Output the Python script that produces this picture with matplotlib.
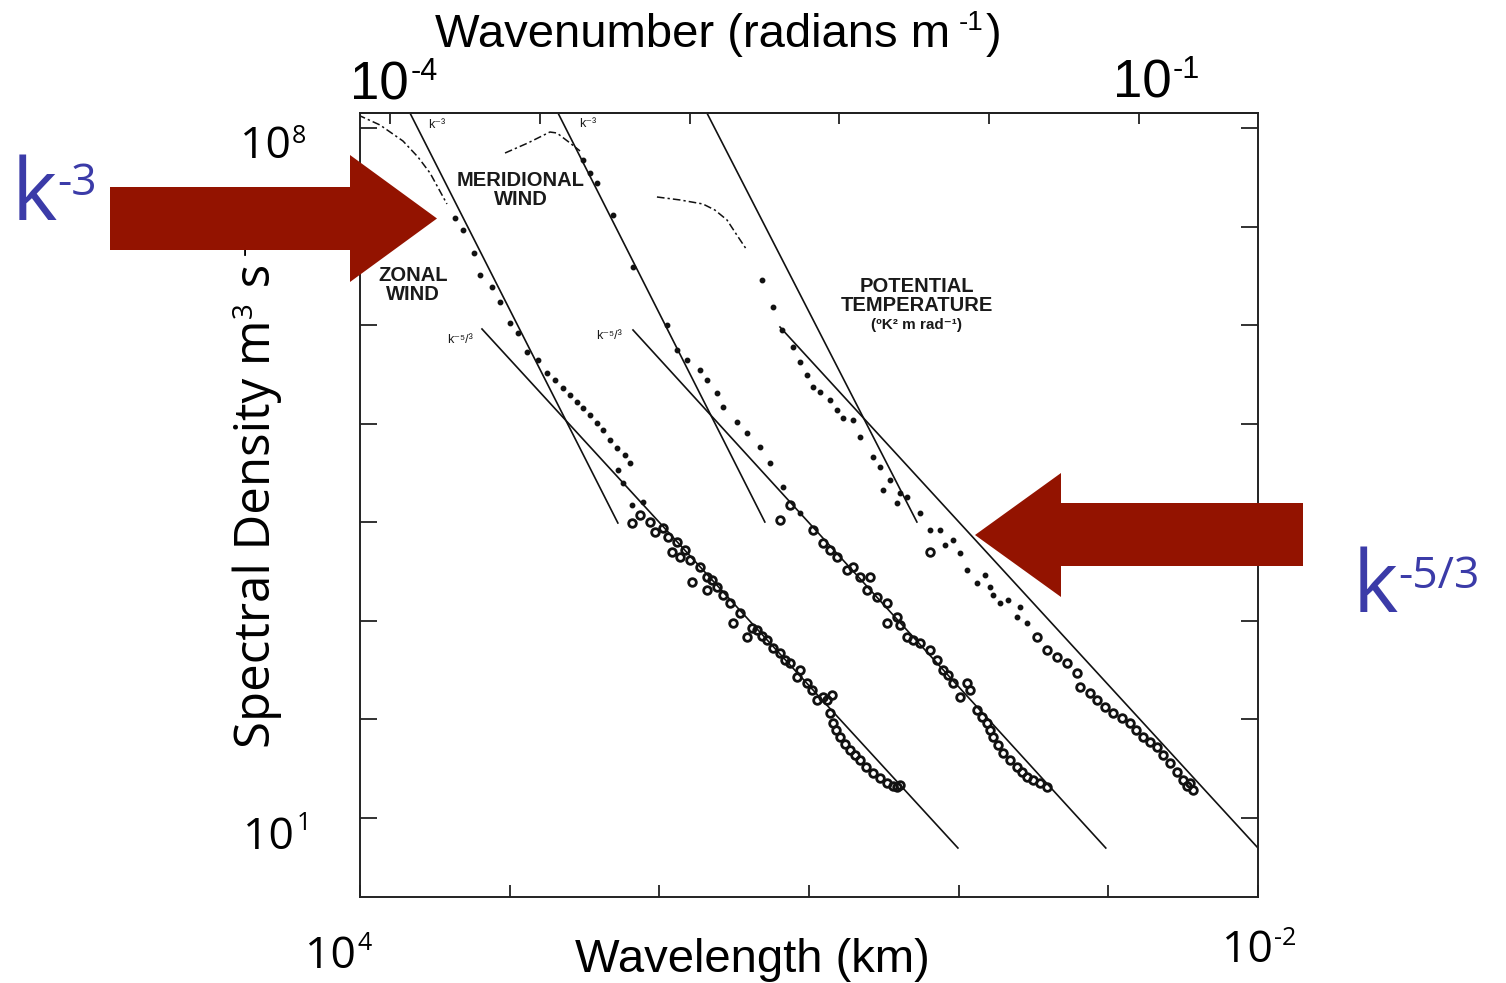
import numpy as np
import matplotlib
matplotlib.use('Agg')
import matplotlib.pyplot as plt
from matplotlib.patches import Polygon
from matplotlib.ticker import NullLocator

W, H = 1506, 983

# ---------------- data: log10 wavelength (km), log10 spectral density ----------------
zonal_dd_lx = [4.013, 3.866, 3.713, 3.613, 3.532, 3.419]
zonal_dd_ly = [8.132, 8.030, 7.868, 7.706, 7.543, 7.229]
zonal_dot_lx = [3.366, 3.312, 3.238, 3.198, 3.118, 3.065, 2.998, 2.945, 2.884, 2.811, 2.751,
                2.697, 2.644, 2.597, 2.550, 2.510, 2.464, 2.417, 2.377, 2.330, 2.283, 2.230,
                2.196, 2.277, 2.243, 2.110, 2.183]
zonal_dot_ly = [7.087, 6.965, 6.732, 6.509, 6.387, 6.235, 6.022, 5.920, 5.727, 5.646, 5.514,
                5.443, 5.362, 5.291, 5.220, 5.159, 5.088, 5.007, 4.936, 4.835, 4.754, 4.683,
                4.601, 4.530, 4.398, 4.206, 4.175]
zonal_circ_lx = [2.183, 2.130, 2.063, 2.029, 1.976, 1.943, 1.882, 1.916, 1.862, 1.829, 1.796,
                 1.729, 1.782, 1.682, 1.649, 1.615, 1.682, 1.575, 1.528, 1.462, 1.508, 1.415,
                 1.381, 1.348, 1.315, 1.281, 1.241, 1.194, 1.161, 1.128, 1.081, 1.061, 1.014,
                 0.981, 0.947, 0.907, 0.880, 0.847, 0.860, 0.840, 0.820, 0.794, 0.760, 0.727,
                 0.693, 0.660, 0.620, 0.573, 0.527, 0.480, 0.440, 0.413, 0.393]
zonal_circ_ly = [3.993, 4.074, 4.003, 3.901, 3.942, 3.851, 3.800, 3.698, 3.648, 3.719, 3.617,
                 3.546, 3.394, 3.445, 3.414, 3.343, 3.313, 3.262, 3.181, 3.080, 2.978, 2.836,
                 2.928, 2.907, 2.846, 2.806, 2.725, 2.674, 2.603, 2.572, 2.430, 2.501, 2.369,
                 2.298, 2.197, 2.227, 2.197, 2.247, 2.065, 1.964, 1.893, 1.822, 1.751, 1.690,
                 1.639, 1.588, 1.517, 1.456, 1.406, 1.355, 1.325, 1.315, 1.335]

merid_dd_lx = [3.031, 2.878, 2.731, 2.684, 2.597, 2.530]
merid_dd_ly = [7.746, 7.848, 7.959, 7.949, 7.848, 7.767]
merid_dot_lx = [2.510, 2.464, 2.417, 2.310, 2.176, 1.949, 1.882, 1.816, 1.729, 1.682, 1.615,
                1.575, 1.482, 1.415, 1.328, 1.261, 1.174, 1.061]
merid_dot_ly = [7.675, 7.543, 7.442, 7.117, 6.590, 6.001, 5.748, 5.646, 5.545, 5.443, 5.312,
                5.170, 5.017, 4.906, 4.764, 4.601, 4.358, 4.094]
merid_circ_lx = [1.194, 1.128, 0.974, 0.907, 0.860, 0.814, 0.747, 0.707, 0.660, 0.593, 0.613,
                 0.546, 0.480, 0.480, 0.413, 0.393, 0.346, 0.306, 0.259, 0.192, 0.146, 0.106,
                 0.072, 0.039, -0.055, -0.075, -0.008, -0.122, -0.155, -0.188, -0.208, -0.228,
                 -0.262, -0.295, -0.342, -0.389, -0.422, -0.456, -0.496, -0.542, -0.589]
merid_circ_ly = [4.023, 4.175, 3.922, 3.790, 3.719, 3.648, 3.516, 3.546, 3.445, 3.445, 3.313,
                 3.242, 3.181, 2.978, 3.039, 2.958, 2.836, 2.806, 2.775, 2.704, 2.603, 2.501,
                 2.451, 2.369, 2.369, 2.298, 2.227, 2.096, 2.025, 1.964, 1.893, 1.822,
                 1.741, 1.659, 1.588, 1.517, 1.467, 1.416, 1.386, 1.355, 1.315]

pt_dd_lx = [2.016, 1.862, 1.709, 1.629, 1.548, 1.482, 1.415]
pt_dd_ly = [7.300, 7.270, 7.229, 7.168, 7.067, 6.914, 6.762]
pt_dot_lx = [1.315, 1.241, 1.181, 1.108, 1.061, 1.014, 0.974, 0.927, 0.860, 0.814, 0.774,
             0.707, 0.660, 0.573, 0.526, 0.460, 0.506, 0.393, 0.413, 0.346, 0.259, 0.192,
             0.126, 0.092, 0.039, -0.008, -0.055, -0.122, -0.175, -0.208, -0.228, -0.275,
             -0.329, -0.389, -0.409, -0.456]
pt_dot_ly = [6.458, 6.184, 5.951, 5.778, 5.626, 5.494, 5.372, 5.322, 5.241, 5.139, 5.058,
             5.038, 4.865, 4.662, 4.561, 4.429, 4.327, 4.297, 4.196, 4.256, 4.094, 3.922,
             3.922, 3.770, 3.820, 3.688, 3.516, 3.384, 3.465, 3.343, 3.262, 3.181,
             3.212, 3.039, 3.141, 2.978]
pt_circ_lx = [0.192, -0.522, -0.589, -0.656, -0.723, -0.790, -0.810, -0.876, -0.923, -0.977,
              -1.030, -1.090, -1.144, -1.184, -1.230, -1.277, -1.324, -1.364, -1.411, -1.458,
              -1.498, -1.524, -1.544, -1.564]
pt_circ_ly = [3.698, 2.836, 2.704, 2.633, 2.572, 2.471, 2.329, 2.268, 2.197, 2.126,
              2.065, 2.015, 1.964, 1.893, 1.822, 1.771, 1.720, 1.639, 1.558, 1.467,
              1.386, 1.325, 1.355, 1.284]

# reference power-law lines (endpoints, log10)
zonal_k3_lx, zonal_k3_ly = [3.666, 2.277], [8.152, 3.993]
zonal_k53_lx, zonal_k53_ly = [3.185, 0.005], [5.961, 0.696]
merid_k3_lx, merid_k3_ly = [2.677, 1.295], [8.152, 4.003]
merid_k53_lx, merid_k53_ly = [2.176, -0.983], [5.951, 0.696]
pt_k3_lx, pt_k3_ly = [1.682, 0.279], [8.152, 4.003]
pt_k53_lx, pt_k53_ly = [1.194, -2.0], [5.981, 0.696]

x_tick_exp = [4, 3, 2, 1, 0, -1, -2]
y_tick_exp = [1, 2, 3, 4, 5, 6, 7, 8]
k_tick_exp = [-6, -5, -4, -3, -2, -1]

# ---------------- figure ----------------
def P(x, y):
    return (x / W, 1 - y / H)

fig = plt.figure(figsize=(W / 100, H / 100), dpi=100)
ax = fig.add_axes([360 / W, 1 - 897 / H, (1258 - 360) / W, (897 - 113) / H])
ax.set_xscale('log')
ax.set_yscale('log')
ax.set_xlim(1e4, 1e-2)
ax.set_ylim(10 ** 0.199, 10 ** 8.152)

ax.set_xticks([10.0 ** e for e in x_tick_exp])
ax.set_yticks([10.0 ** e for e in y_tick_exp])
ax.set_xticklabels([])
ax.set_yticklabels([])
ax.xaxis.set_minor_locator(NullLocator())
ax.yaxis.set_minor_locator(NullLocator())
ax.tick_params(axis='x', direction='in', length=9, width=1.3, color='#222222',
               top=False, bottom=True)
ax.tick_params(axis='y', direction='in', length=12, width=1.3, color='#222222',
               left=True, right=True)
for s in ax.spines.values():
    s.set_linewidth(1.4)
    s.set_color('#222222')

def lam2k(x):
    x = np.asarray(x, dtype=float)
    with np.errstate(divide='ignore', invalid='ignore'):
        return 2 * np.pi / (x * 1e3)

secax = ax.secondary_xaxis('top', functions=(lam2k, lam2k))
secax.set_xticks([10.0 ** e for e in k_tick_exp])
secax.set_xticklabels([])
secax.xaxis.set_minor_locator(NullLocator())
secax.tick_params(direction='in', length=8, width=1.3, color='#222222')
secax.spines['top'].set_linewidth(1.4)

def L(a):
    return 10.0 ** np.asarray(a)

dd = (0, (5, 2, 1.5, 2))
for lx, ly in [(zonal_dd_lx, zonal_dd_ly), (merid_dd_lx, merid_dd_ly), (pt_dd_lx, pt_dd_ly)]:
    ax.plot(L(lx), L(ly), color='#111111', lw=1.1, ls=dd)
for lx, ly in [(zonal_dot_lx, zonal_dot_ly), (merid_dot_lx, merid_dot_ly), (pt_dot_lx, pt_dot_ly)]:
    ax.plot(L(lx), L(ly), ls='none', marker='o', ms=3.2, color='#111111')
for lx, ly in [(zonal_circ_lx, zonal_circ_ly), (merid_circ_lx, merid_circ_ly), (pt_circ_lx, pt_circ_ly)]:
    ax.plot(L(lx), L(ly), ls='none', marker='o', ms=5.5, mfc='none', mec='#111111', mew=2.0)
for lx, ly in [(zonal_k3_lx, zonal_k3_ly), (zonal_k53_lx, zonal_k53_ly),
               (merid_k3_lx, merid_k3_ly), (merid_k53_lx, merid_k53_ly),
               (pt_k3_lx, pt_k3_ly), (pt_k53_lx, pt_k53_ly)]:
    ax.plot(L(lx), L(ly), color='#111111', lw=1.2)

# in-plot labels (scanned figure)
lab = dict(family=['Liberation Sans', 'DejaVu Sans'], weight='bold', color='#1a1a1a',
           ha='center', va='center', linespacing=1.0)
ax.text(10 ** 2.924, 10 ** 7.371, 'MERIDIONAL\nWIND', fontsize=14.5, **lab)
ax.text(10 ** 3.646, 10 ** 6.407, 'ZONAL\nWIND', fontsize=14.5, **lab)
ax.text(10 ** 0.279, 10 ** 6.300, 'POTENTIAL\nTEMPERATURE', fontsize=14.5, **lab)
ax.text(10 ** 0.279, 10 ** 6.000, '(ºK² m rad⁻¹)', fontsize=11, **lab)
sm = dict(family=['Liberation Sans', 'DejaVu Sans'], color='#1a1a1a', ha='center', va='center',
          fontsize=9)
ax.text(10 ** 3.486, 10 ** 8.030, 'k⁻³', **sm)
ax.text(10 ** 2.477, 10 ** 8.041, 'k⁻³', **sm)
ax.text(10 ** 3.332, 10 ** 5.849, 'k⁻⁵/³', **sm)
ax.text(10 ** 2.337, 10 ** 5.890, 'k⁻⁵/³', **sm)

# ---------------- overlay annotation text ----------------
lib = 'Liberation Sans'
osn = 'Open Sans'
def T(x, y, s, size, fam, color='black', **kw):
    fig.text(*P(x, y), s, fontsize=size, family=fam, color=color, ha='left', va='baseline', **kw)

T(435, 47, 'Wavenumber (radians m', 34, lib)
T(959, 30, '-1', 20, lib)
T(986, 47, ')', 34, lib)

T(350, 100, '10', 38, lib)
T(411, 80, '-4', 22, lib)
T(1113, 98, '10', 38, lib)
T(1173, 78, '-1', 22, lib)

T(240, 158, '10', 32, osn)
T(292, 143, '8', 18, osn)
T(243, 849, '10', 32, osn)
T(297, 830, '1', 18, osn)
T(305, 968, '10', 32, osn)
T(357, 950, '4', 18, osn)
T(1222, 962, '10', 32, osn)
T(1274, 945, '-2', 18, osn)

T(575, 972, 'Wavelength (km)', 34, lib)

# rotated y label
rot = dict(family=osn, rotation=90, rotation_mode='anchor', ha='left', va='baseline')
fig.text(*P(270, 748), 'Spectral Density m', fontsize=35.5, **rot)
fig.text(*P(252, 318), '3', fontsize=20, **rot)
fig.text(*P(270, 300), ' s', fontsize=35.5, **rot)
fig.text(*P(252, 255), '-2', fontsize=20, **rot)

blue = '#3b3ba8'
T(12, 220, 'k', 62, osn, color=blue)
T(57, 195, '-3', 32, osn, color=blue)
T(1353, 612, 'k', 62, osn, color=blue)
T(1398, 588, '-5/3', 32, osn, color=blue)

# arrows
red = '#931300'
left_arrow = [(110, 187), (350, 187), (350, 155), (437, 218.5), (350, 282), (350, 250), (110, 250)]
right_arrow = [(1303, 503), (1061, 503), (1061, 473), (975, 535), (1061, 597), (1061, 566), (1303, 566)]
for pts in (left_arrow, right_arrow):
    fig.patches.append(Polygon([P(x, y) for x, y in pts], closed=True, facecolor=red,
                               edgecolor='none', transform=fig.transFigure, zorder=10))

fig.savefig('out.png', dpi=100)
